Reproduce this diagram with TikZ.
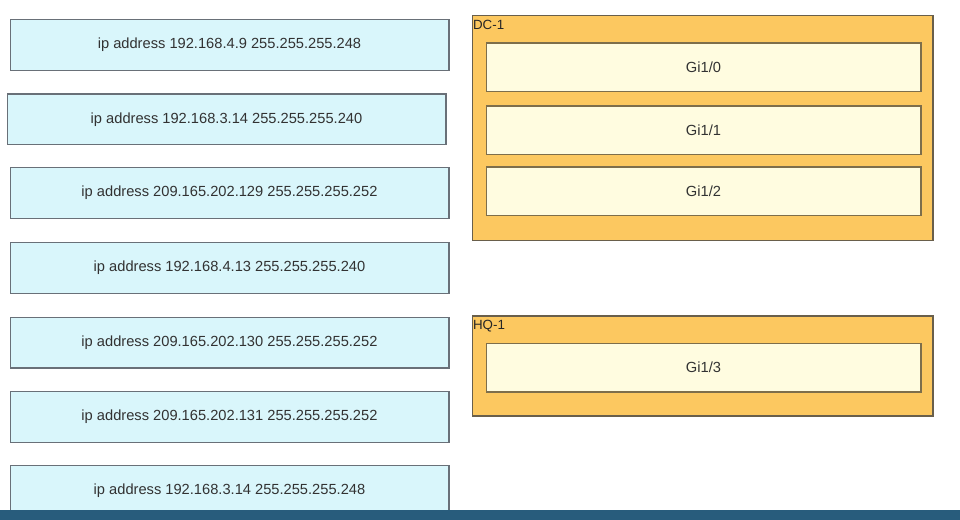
\documentclass[tikz,border=0pt]{standalone}
\usepackage{fontspec}
\setmainfont{Liberation Sans}
\usepackage{xcolor}
\definecolor{ipFill}{RGB}{217,246,251}
\definecolor{ipBorder}{RGB}{105,112,120}
\definecolor{routerFill}{RGB}{252,200,96}
\definecolor{routerBorder}{RGB}{105,95,75}
\definecolor{portFill}{RGB}{255,252,224}
\definecolor{portBorder}{RGB}{125,110,75}
\definecolor{textGray}{RGB}{50,50,50}
\definecolor{barBlue}{RGB}{40,92,124}
\usepackage{tikz}
\usetikzlibrary{positioning}
\tikzstyle{ipbox}=[rectangle, draw=ipBorder, fill=ipFill, line width=1pt, minimum width=329pt, minimum height=38pt, text=textGray, font=\fontsize{11}{13}\selectfont]
\tikzstyle{routerbox}=[rectangle, draw=routerBorder, fill=routerFill, line width=1pt, minimum width=345.5pt]
\tikzstyle{portbox}=[rectangle, draw=portBorder, fill=portFill, line width=1pt, minimum width=326pt, minimum height=36.5pt, text=textGray, font=\fontsize{11}{13}\selectfont]
\tikzstyle{routerlabel}=[anchor=north west, inner sep=1pt, yshift=-2.5pt, text=black!85, font=\fontsize{10}{12}\selectfont]

\begin{document}
\begin{tikzpicture}[x=0.75pt, y=-0.75pt]
        \useasboundingbox (0,0) rectangle (960,520);
        % Befehle links
        \node[ipbox] (ip1) at (229.5, 45.0) {ip address 192.168.4.9 255.255.255.248};
        \node[ipbox] (ip2) at (226.5, 119.5) {ip address 192.168.3.14 255.255.255.240};
        \node[ipbox] (ip3) at (229.5, 193.0) {ip address 209.165.202.129 255.255.255.252};
        \node[ipbox] (ip4) at (229.5, 268.0) {ip address 192.168.4.13 255.255.255.240};
        \node[ipbox] (ip5) at (229.5, 342.5) {ip address 209.165.202.130 255.255.255.252};
        \node[ipbox] (ip6) at (229.5, 417.0) {ip address 209.165.202.131 255.255.255.252};
        \node[ipbox] (ip7) at (229.5, 491.0) {ip address 192.168.3.14 255.255.255.248};

        % Router DC-1
        \node[routerbox, minimum height=168.5pt] (dc) at (702.5, 128.0) {};
        \node[routerlabel] (dclabel) at (dc.north west) {DC-1};
        \node[portbox] (gi10) at (703.5, 67.5) {Gi1/0};
        \node[portbox] (gi11) at (703.5, 130.5) {Gi1/1};
        \node[portbox] (gi12) at (703.5, 191.5) {Gi1/2};

        % Router HQ-1
        \node[routerbox, minimum height=75pt] (hq) at (702.5, 366.0) {};
        \node[routerlabel] (hqlabel) at (hq.north west) {HQ-1};
        \node[portbox] (gi13) at (703.5, 367.5) {Gi1/3};

        % Leiste unten
        \fill[barBlue] (0,510) rectangle (960,520);
      \end{tikzpicture}
\end{document}
